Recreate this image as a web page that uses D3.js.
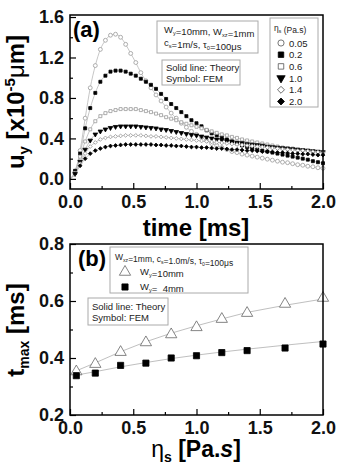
<!DOCTYPE html>
<html>
<head>
<meta charset="utf-8">
<script src="https://cdnjs.cloudflare.com/ajax/libs/d3/7.8.5/d3.min.js"></script>
<style>
  body { margin: 0; background: #fff; }
  svg { font-family: "Liberation Sans", Arial, sans-serif; }
</style>
</head>
<body>
<div id="chart"></div>
<script>
// ---- panel (a) data: u_y vs time for several viscosities ----
const times = [0.04, 0.08, 0.12, 0.16, 0.20, 0.24, 0.28, 0.32, 0.36, 0.40,
  0.44, 0.48, 0.52, 0.56, 0.60, 0.64, 0.68, 0.72, 0.76, 0.80,
  0.84, 0.88, 0.92, 0.96, 1.00, 1.04, 1.08, 1.12, 1.16, 1.20,
  1.24, 1.28, 1.32, 1.36, 1.40, 1.44, 1.48, 1.52, 1.56, 1.60,
  1.64, 1.68, 1.72, 1.76, 1.80, 1.84, 1.88, 1.92, 1.96, 2.00];

const eta005 = [0.07, 0.28, 0.60, 0.90, 1.12, 1.28, 1.37, 1.42, 1.43, 1.40,
  1.33, 1.24, 1.15, 1.05, 0.97, 0.90, 0.83, 0.77, 0.71, 0.65,
  0.60, 0.55, 0.51, 0.47, 0.44, 0.41, 0.38, 0.35, 0.33, 0.31,
  0.29, 0.27, 0.26, 0.245, 0.235, 0.225, 0.215, 0.205, 0.195, 0.185,
  0.175, 0.165, 0.16, 0.15, 0.14, 0.135, 0.125, 0.12, 0.11, 0.105];
const eta02 = [0.08, 0.25, 0.50, 0.70, 0.85, 0.96, 1.02, 1.06, 1.07, 1.07,
  1.06, 1.04, 1.02, 0.99, 0.96, 0.93, 0.89, 0.84, 0.79, 0.74,
  0.70, 0.66, 0.62, 0.58, 0.55, 0.52, 0.48, 0.45, 0.43, 0.41,
  0.39, 0.37, 0.35, 0.33, 0.315, 0.30, 0.29, 0.28, 0.27, 0.26,
  0.25, 0.24, 0.23, 0.22, 0.21, 0.20, 0.19, 0.175, 0.165, 0.155];
const eta06 = [0.06, 0.22, 0.37, 0.49, 0.57, 0.62, 0.65, 0.67, 0.68, 0.69,
  0.69, 0.69, 0.69, 0.68, 0.67, 0.66, 0.645, 0.63, 0.61, 0.595,
  0.58, 0.56, 0.545, 0.53, 0.515, 0.50, 0.485, 0.47, 0.455, 0.44,
  0.43, 0.415, 0.405, 0.39, 0.38, 0.37, 0.36, 0.35, 0.34, 0.33,
  0.32, 0.31, 0.305, 0.30, 0.29, 0.285, 0.28, 0.27, 0.265, 0.26];
const eta10 = [0.05, 0.17, 0.29, 0.38, 0.44, 0.47, 0.49, 0.505, 0.515, 0.52,
  0.52, 0.52, 0.52, 0.515, 0.51, 0.505, 0.50, 0.49, 0.485, 0.475,
  0.465, 0.455, 0.445, 0.435, 0.43, 0.42, 0.41, 0.40, 0.39, 0.385,
  0.375, 0.37, 0.36, 0.355, 0.345, 0.34, 0.335, 0.33, 0.32, 0.315,
  0.31, 0.305, 0.30, 0.295, 0.29, 0.285, 0.28, 0.275, 0.27, 0.265];
const eta14 = [0.05, 0.15, 0.25, 0.32, 0.36, 0.39, 0.405, 0.415, 0.42, 0.425,
  0.43, 0.43, 0.43, 0.43, 0.425, 0.42, 0.42, 0.415, 0.41, 0.405,
  0.40, 0.395, 0.39, 0.385, 0.38, 0.375, 0.37, 0.365, 0.36, 0.355,
  0.35, 0.345, 0.34, 0.335, 0.33, 0.325, 0.32, 0.315, 0.31, 0.305,
  0.30, 0.295, 0.29, 0.285, 0.28, 0.28, 0.275, 0.27, 0.265, 0.26];
const eta20 = [0.05, 0.13, 0.20, 0.25, 0.28, 0.30, 0.315, 0.325, 0.33, 0.335,
  0.34, 0.34, 0.34, 0.34, 0.34, 0.34, 0.335, 0.335, 0.33, 0.33,
  0.325, 0.325, 0.32, 0.315, 0.315, 0.31, 0.31, 0.305, 0.30, 0.30,
  0.295, 0.29, 0.29, 0.285, 0.28, 0.28, 0.275, 0.27, 0.27, 0.265,
  0.26, 0.26, 0.255, 0.25, 0.25, 0.245, 0.245, 0.24, 0.235, 0.235];

const seriesA = [
  { label: "0.05", values: eta005, shape: "circle",  filled: false },
  { label: "0.2",  values: eta02,  shape: "square",  filled: true },
  { label: "0.6",  values: eta06,  shape: "square",  filled: false },
  { label: "1.0",  values: eta10,  shape: "tridown", filled: true },
  { label: "1.4",  values: eta14,  shape: "diamond", filled: false },
  { label: "2.0",  values: eta20,  shape: "diamond", filled: true }
];

// ---- panel (b) data: t_max vs viscosity ----
const etas = [0.05, 0.2, 0.4, 0.6, 0.8, 1.0, 1.2, 1.4, 1.7, 2.0];
const tmax10 = [0.356, 0.382, 0.424, 0.458, 0.486, 0.511, 0.540, 0.561, 0.593, 0.614];
const tmax4 = [0.338, 0.347, 0.374, 0.382, 0.400, 0.408, 0.419, 0.426, 0.435, 0.449];
const theory10 = [0.355, 0.383, 0.422, 0.457, 0.487, 0.513, 0.537, 0.560, 0.585, 0.607];
const theory4 = [0.340, 0.352, 0.369, 0.384, 0.398, 0.410, 0.421, 0.431, 0.445, 0.458];

const W = 338, H = 466;
const svg = d3.select("#chart").append("svg")
  .attr("width", W).attr("height", H);

const grey = "#9a9a9a", lineGrey = "#b8b8b8";

// symbol drawing helper
function marker(g, shape, filled, size, color) {
  let path;
  if (shape === "circle") path = d3.symbol(d3.symbolCircle, size)();
  else if (shape === "square") path = d3.symbol(d3.symbolSquare, size)();
  else if (shape === "diamond") path = d3.symbol(d3.symbolSquare, size * 0.8)();
  else path = d3.symbol(d3.symbolTriangle, size)();
  const p = g.append("path").attr("d", path)
    .attr("fill", filled ? "#000" : "#fff")
    .attr("stroke", filled ? "#000" : (color || grey))
    .attr("stroke-width", 0.8);
  if (shape === "diamond") p.attr("transform", "rotate(45)");
  if (shape === "tridown") p.attr("transform", "rotate(180)");
  return p;
}

function drawAxes(x, y, yMajor, yMinor, xPad) {
  const x0 = x.range()[0], x1 = x.range()[1];
  const yb = y.range()[0], yt = y.range()[1];
  const g = svg.append("g");
  // minor ticks
  g.append("g").attr("transform", `translate(0,${yb})`)
    .call(d3.axisBottom(x).tickValues([0.25, 0.75, 1.25, 1.75]).tickSize(-3).tickFormat(""))
    .call(a => a.select(".domain").remove());
  g.append("g").attr("transform", `translate(${x0},0)`)
    .call(d3.axisLeft(y).tickValues(yMinor).tickSize(-3).tickFormat(""))
    .call(a => a.select(".domain").remove());
  // major ticks with labels
  g.append("g").attr("transform", `translate(0,${yb})`)
    .call(d3.axisBottom(x).tickValues([0, 0.5, 1.0, 1.5, 2.0]).tickSize(-6)
      .tickPadding(xPad).tickFormat(d3.format(".1f")))
    .call(a => a.select(".domain").remove());
  g.append("g").attr("transform", `translate(${x0},0)`)
    .call(d3.axisLeft(y).tickValues(yMajor).tickSize(-6)
      .tickPadding(6).tickFormat(d3.format(".1f")))
    .call(a => a.select(".domain").remove());
  g.selectAll(".tick line").attr("stroke", "#000").attr("stroke-width", 1.2);
  g.selectAll(".tick text").attr("font-size", 18).attr("font-weight", "bold")
    .attr("font-family", "'Liberation Sans', Arial, sans-serif").attr("fill", "#111");
  // frame
  svg.append("rect").attr("x", x0).attr("y", yt)
    .attr("width", x1 - x0).attr("height", yb - yt)
    .attr("fill", "none").attr("stroke", "#000").attr("stroke-width", 1.5);
}

function textBox(x, y, w, h) {
  svg.append("rect").attr("x", x).attr("y", y).attr("width", w).attr("height", h)
    .attr("fill", "#fff").attr("stroke", "#aaa").attr("stroke-width", 1);
}

function smallText(x, y, parts, size) {
  const t = svg.append("text").attr("x", x).attr("y", y)
    .attr("font-size", size || 9.5).attr("fill", "#222");
  parts.forEach(p => {
    if (typeof p === "string") t.append("tspan").text(p);
    else t.append("tspan").attr("font-size", (size || 9.5) * 0.6)
      .attr("dy", p.dy).text(p.t);
  });
  return t;
}

// ================= panel (a) =================
const xa = d3.scaleLinear().domain([0, 2]).range([70, 323]);
const ya = d3.scaleLinear().domain([-0.1, 1.62]).range([189, 15]);

const plotA = svg.append("g");
seriesA.forEach(s => {
  plotA.append("path").datum([0].concat(s.values))
    .attr("d", d3.line().x((d, i) => xa(i === 0 ? 0 : times[i - 1])).y(d => ya(d)).curve(d3.curveMonotoneX))
    .attr("fill", "none").attr("stroke", lineGrey).attr("stroke-width", 0.8);
});
seriesA.forEach(s => {
  s.values.forEach((v, i) => {
    const g = plotA.append("g").attr("transform", `translate(${xa(times[i])},${ya(v)})`);
    marker(g, s.shape, s.filled, s.shape === "circle" ? 12 : 9);
  });
});

drawAxes(xa, ya, [0, 0.4, 0.8, 1.2, 1.6], [0.2, 0.6, 1.0, 1.4], 6);

svg.append("text").attr("x", 73).attr("y", 37).attr("font-size", 22)
  .attr("font-weight", "bold").text("(a)");

textBox(157, 21, 101, 32);
smallText(164, 33, ["W", { t: "y", dy: 2 }, { t: "", dy: -2 }, "=10mm, W", { t: "xz", dy: 2 }, { t: "", dy: -2 }, "=1mm"]);
smallText(164, 46, ["c", { t: "s", dy: 2 }, { t: "", dy: -2 }, "=1m/s, \u03c4", { t: "0", dy: 2 }, { t: "", dy: -2 }, "=100\u03bcs"]);
textBox(162, 60, 78, 25);
smallText(166, 71, ["Solid line: Theory"]);
smallText(166, 82, ["Symbol: FEM"]);

// legend
textBox(270, 18, 48, 89);
smallText(274, 31, ["\u03b7", { t: "s", dy: 2 }, { t: "", dy: -2 }, " (Pa.s)"], 8.5);
seriesA.forEach((s, i) => {
  const yy = 43 + i * 11.7;
  const g = svg.append("g").attr("transform", `translate(281,${yy})`);
  marker(g, s.shape, s.filled, 30, "#555");
  smallText(289, yy + 3.5, [s.label], 9.5);
});

// axis titles (a)
svg.append("text").attr("x", 196).attr("y", 236).attr("text-anchor", "middle")
  .attr("font-size", 24).attr("font-weight", "bold").text("time [ms]");
const tya = svg.append("text").attr("transform", "translate(24,102) rotate(-90)")
  .attr("text-anchor", "middle").attr("font-size", 24).attr("font-weight", "bold");
tya.append("tspan").text("u");
tya.append("tspan").attr("font-size", 15).attr("dy", 5).text("y");
tya.append("tspan").attr("dy", -5).text(" [x10");
tya.append("tspan").attr("font-size", 15).attr("dy", -9).text("-5");
tya.append("tspan").attr("dy", 9).attr("font-weight", "normal").text("\u03bc");
tya.append("tspan").text("m]");

// ================= panel (b) =================
const xb = d3.scaleLinear().domain([0, 2]).range([70, 323]);
const yb = d3.scaleLinear().domain([0.2, 0.8]).range([415, 244]);

const lineB = d3.line().x((d, i) => xb(etas[i])).y(d => yb(d));
[theory10, theory4].forEach(t => {
  svg.append("path").datum(t).attr("d", lineB)
    .attr("fill", "none").attr("stroke", lineGrey).attr("stroke-width", 0.9);
});
tmax10.forEach((v, i) => {
  const g = svg.append("g").attr("transform", `translate(${xb(etas[i])},${yb(v) + 1})`);
  marker(g, "triangle", false, 55, "#666");
});
tmax4.forEach((v, i) => {
  const g = svg.append("g").attr("transform", `translate(${xb(etas[i])},${yb(v)})`);
  marker(g, "square", true, 38);
});

drawAxes(xb, yb, [0.2, 0.4, 0.6, 0.8], [0.3, 0.5, 0.7], 6);

svg.append("text").attr("x", 78).attr("y", 266).attr("font-size", 22)
  .attr("font-weight", "bold").text("(b)");

textBox(110, 247, 138, 46);
smallText(115, 260, ["W", { t: "xz", dy: 2 }, { t: "", dy: -2 }, "=1mm, c", { t: "s", dy: 2 }, { t: "", dy: -2 }, "=1.0m/s, \u03c4", { t: "0", dy: 2 }, { t: "", dy: -2 }, "=100\u03bcs"], 8.5);
{
  const g1 = svg.append("g").attr("transform", "translate(125,272)");
  marker(g1, "triangle", false, 55, "#666");
  smallText(140, 275, ["W", { t: "y", dy: 2 }, { t: "", dy: -2 }, "=10mm"]);
  const g2 = svg.append("g").attr("transform", "translate(125,287)");
  marker(g2, "square", true, 38);
  smallText(140, 290, ["W", { t: "y", dy: 2 }, { t: "", dy: -2 }, "=  4mm"]).attr("xml:space", "preserve");
}
textBox(88, 298, 80, 27);
smallText(92, 310, ["Solid line: Theory"]);
smallText(92, 321, ["Symbol: FEM"]);

// axis titles (b)
const txb = svg.append("text").attr("x", 196).attr("y", 457).attr("text-anchor", "middle")
  .attr("font-size", 23).attr("font-weight", "bold");
txb.append("tspan").attr("font-weight", "normal").text("\u03b7");
txb.append("tspan").attr("font-size", 14).attr("dy", 5).text("s");
txb.append("tspan").attr("dy", -5).text(" [Pa.");
txb.append("tspan").attr("font-style", "italic").text("s");
txb.append("tspan").text("]");
const tyb = svg.append("text").attr("transform", "translate(24,330) rotate(-90)")
  .attr("text-anchor", "middle").attr("font-size", 24).attr("font-weight", "bold");
tyb.append("tspan").text("t");
tyb.append("tspan").attr("font-size", 14).attr("dy", 5).text("max");
tyb.append("tspan").attr("dy", -5).text(" [ms]");
</script>
</body>
</html>
